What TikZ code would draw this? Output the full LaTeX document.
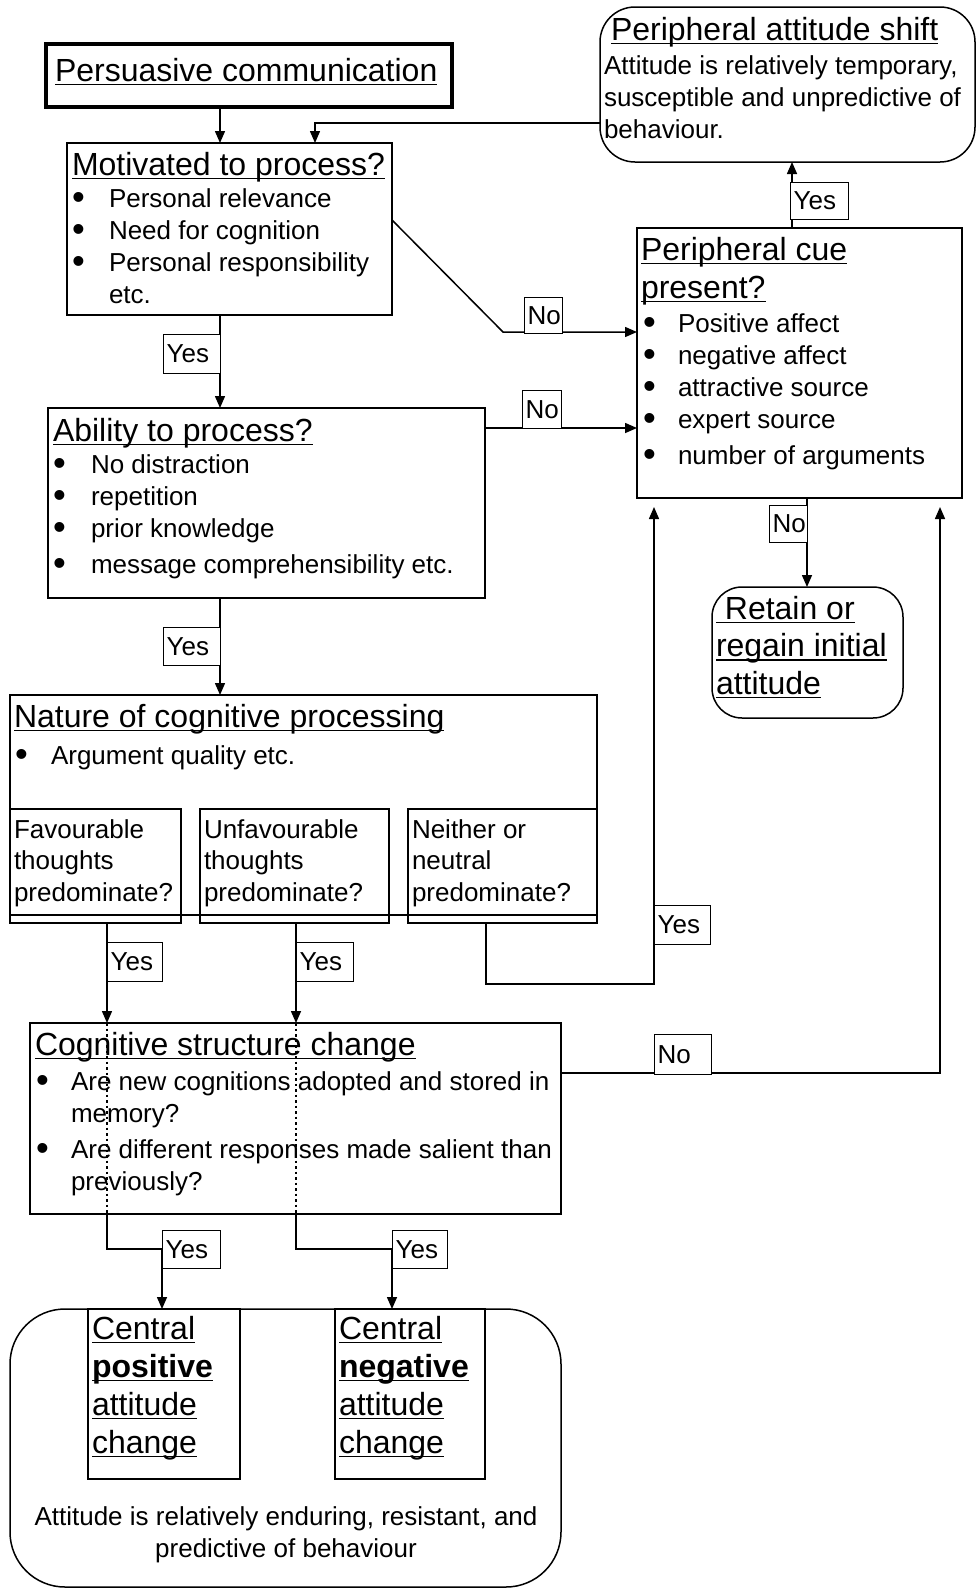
\documentclass[tikz,border=0pt]{standalone}
\usepackage{fontspec}
\setmainfont{Liberation Sans}
\usetikzlibrary{arrows.meta}
\newsavebox{\myulbox}
\newcommand{\myul}[1]{\sbox{\myulbox}{#1}\rlap{\rule[-4.2pt]{\wd\myulbox}{1.4pt}}\usebox{\myulbox}}
\newcommand{\bodyf}{\fontsize{26}{32}\selectfont}
\newcommand{\ttlf}{\fontsize{32}{38}\selectfont}
\newcommand{\bul}[1]{\makebox[#1][l]{\raisebox{-2.6pt}{\scalebox{1.4}{\textbullet}}}}
\begin{document}
\begin{tikzpicture}[x=1pt,y=-1pt,
  box/.style={draw, line width=1.5pt, inner sep=0pt, outer sep=0pt, anchor=north west},
  rbox/.style={box, rounded corners=#1},
  arr/.style={line width=1.5pt, -{Triangle[length=12pt,width=10pt]}},
  plain/.style={line width=1.5pt},
  dots/.style={line width=1.2pt, dash pattern=on 2.5pt off 3pt},
  lab/.style={draw, fill=white, line width=1.3pt, anchor=north west, inner xsep=3pt, inner ysep=0pt, font=\bodyf, align=left},
  txt/.style={anchor=base west, inner sep=0pt, outer sep=0pt, align=left, font=\bodyf},
  ttl/.style={anchor=base west, inner sep=0pt, outer sep=0pt, align=left, font=\ttlf}]
\useasboundingbox (0,0) rectangle (976,1590);
\fill[white] (0,0) rectangle (976,1590);

% ---------- boxes ----------
\node[box, line width=4pt, minimum width=406pt, minimum height=63pt] (pc) at (46,44) {};
\node[box, minimum width=325pt, minimum height=172pt] (mot) at (67,143) {};
\node[rbox=35pt, minimum width=375pt, minimum height=155pt] (pas) at (600,7) {};
\node[box, minimum width=325pt, minimum height=270pt] (cue) at (637,228) {};
\node[box, minimum width=437pt, minimum height=190pt] (abl) at (48,408) {};
\node[rbox=30pt, minimum width=191pt, minimum height=131pt] (ret) at (712,587) {};
\node[box, minimum width=587pt, minimum height=220pt] (nat) at (10,695) {};
\node[box, minimum width=171pt, minimum height=114pt] (fav) at (10,809) {};
\node[box, minimum width=189pt, minimum height=114pt] (unf) at (200,809) {};
\node[box, minimum width=189pt, minimum height=114pt] (nei) at (408,809) {};
\draw[plain] (nat.south west) -- (nat.south east);
\node[box, minimum width=531pt, minimum height=191pt] (cog) at (30,1023) {};
\node[rbox=55pt, minimum width=551pt, minimum height=278pt] (big) at (10,1309) {};
\node[box, minimum width=152pt, minimum height=170pt] (cpos) at (88,1309) {};
\node[box, minimum width=150pt, minimum height=170pt] (cneg) at (335,1309) {};

% ---------- texts (multi-line nodes anchored at the baseline of their last line) ----------
\node[ttl] (tpc) at (55,81) {\myul{Persuasive communication}};
\node[ttl] (tmot) at (72,175) {\myul{Motivated to process?}};
\node[txt] (bmot) at (72,303) {\bul{37pt}Personal relevance\\ \bul{37pt}Need for cognition\\ \bul{37pt}Personal responsibility\\ \hspace*{37pt}etc.};
\node[ttl] (tpas) at (611,40) {\myul{Peripheral attitude shift}};
\node[txt] (bpas) at (604,138) {Attitude is relatively temporary,\\ susceptible and unpredictive of\\ behaviour.};
\node[ttl] (tcue) at (641,298) {\myul{Peripheral cue}\\ \myul{present?}};
\node[txt] (bcue) at (643,464) {\bul{35pt}Positive affect\\ \bul{35pt}negative affect\\ \bul{35pt}attractive source\\ \bul{35pt}expert source\\[4pt] \bul{35pt}number of arguments};
\node[ttl] (tabl) at (53,441) {\myul{Ability to process?}};
\node[txt] (babl) at (53,573) {\bul{38pt}No distraction\\ \bul{38pt}repetition\\ \bul{38pt}prior knowledge\\[4pt] \bul{38pt}message comprehensibility etc.};
\node[ttl, font=\fontsize{32}{37.5}\selectfont] (tret) at (716,694) {\myul{\ Retain or}\\ \myul{regain initial}\\ \myul{attitude}};
\node[ttl] (tnat) at (14,727) {\myul{Nature of cognitive processing}};
\node[txt] (bnat) at (15,764) {\bul{36pt}Argument quality etc.};
\node[txt, font=\fontsize{26}{31.5}\selectfont] (tfav) at (14,901) {Favourable\\ thoughts\\ predominate?};
\node[txt, font=\fontsize{26}{31.5}\selectfont] (tunf) at (204,901) {Unfavourable\\ thoughts\\ predominate?};
\node[txt, font=\fontsize{26}{31.5}\selectfont] (tnei) at (412,901) {Neither or\\ neutral\\ predominate?};
\node[ttl] (tcog) at (35,1055) {\myul{Cognitive structure change}};
\node[txt] (bcog) at (36,1190) {\bul{35pt}Are new cognitions adopted and stored in\\ \hspace*{35pt}memory?\\[4pt] \bul{35pt}Are different responses made salient than\\ \hspace*{35pt}previously?};
\node[ttl] (tcpos) at (92,1453) {\myul{Central}\\ \myul{\textbf{positive}}\\ \myul{attitude}\\ \myul{change}};
\node[ttl] (tcneg) at (339,1453) {\myul{Central}\\ \myul{\textbf{negative}}\\ \myul{attitude}\\ \myul{change}};
\node[anchor=base, inner sep=0pt, align=center, font=\bodyf] (tbig) at (286,1557) {Attitude is relatively enduring, resistant, and\\ predictive of behaviour};

% ---------- connectors ----------
\coordinate (cueL) at (654,507);
\coordinate (cueR) at (940,507);
\draw[arr] (220,0 |- pc.south) -- (220,0 |- mot.north);
\draw[arr] (pas.west |- 0,123) -- (315,123) -- (315,0 |- mot.north);
\draw[arr] (mot.east |- 0,220) -- (503,332) -- (cue.west |- 0,332);
\draw[arr] (220,0 |- mot.south) -- (220,0 |- abl.north);
\draw[arr] (abl.east |- 0,428) -- (cue.west |- 0,428);
\draw[arr] (792,0 |- cue.north) -- (792,0 |- pas.south);
\draw[arr] (807,0 |- cue.south) -- (807,0 |- ret.north);
\draw[arr] (220,0 |- abl.south) -- (220,0 |- nat.north);
\draw[arr] (107,0 |- fav.south) -- (107,0 |- cog.north);
\draw[arr] (296,0 |- unf.south) -- (296,0 |- cog.north);
\draw[arr] (486,0 |- nei.south) -- (486,984) -- (654,984) -- (cueL);
\draw[arr] (cog.east |- 0,1073) -- (940,1073) -- (cueR);
\draw[dots] (107,0 |- cog.north) -- (107,0 |- cog.south);
\draw[dots] (296,0 |- cog.north) -- (296,0 |- cog.south);
\draw[arr] (107,0 |- cog.south) -- (107,1249) -- (162,1249) -- (162,0 |- cpos.north);
\draw[arr] (296,0 |- cog.south) -- (296,1249) -- (392,1249) -- (392,0 |- cneg.north);

% ---------- labels ----------
\node[lab, text width=32pt, minimum height=36pt] (l1) at (524,297) {No};
\node[lab, text width=51pt, minimum height=39pt] (l2) at (163,334) {Yes};
\node[lab, text width=33pt, minimum height=38pt] (l3) at (522,390) {No};
\node[lab, text width=52pt, minimum height=37pt] (l4) at (790,182) {Yes};
\node[lab, text width=32pt, minimum height=37pt] (l5) at (769,505) {No};
\node[lab, text width=51pt, minimum height=38pt] (l6) at (163,627) {Yes};
\node[lab, text width=49pt, minimum height=39pt] (l7) at (107,942) {Yes};
\node[lab, text width=51pt, minimum height=39pt] (l8) at (296,942) {Yes};
\node[lab, text width=50pt, minimum height=39pt] (l9) at (654,905) {Yes};
\node[lab, text width=51pt, minimum height=40pt] (l10) at (654,1034) {No};
\node[lab, text width=52pt, minimum height=38pt] (l11) at (162,1230) {Yes};
\node[lab, text width=49pt, minimum height=38pt] (l12) at (392,1230) {Yes};
\end{tikzpicture}
\end{document}
